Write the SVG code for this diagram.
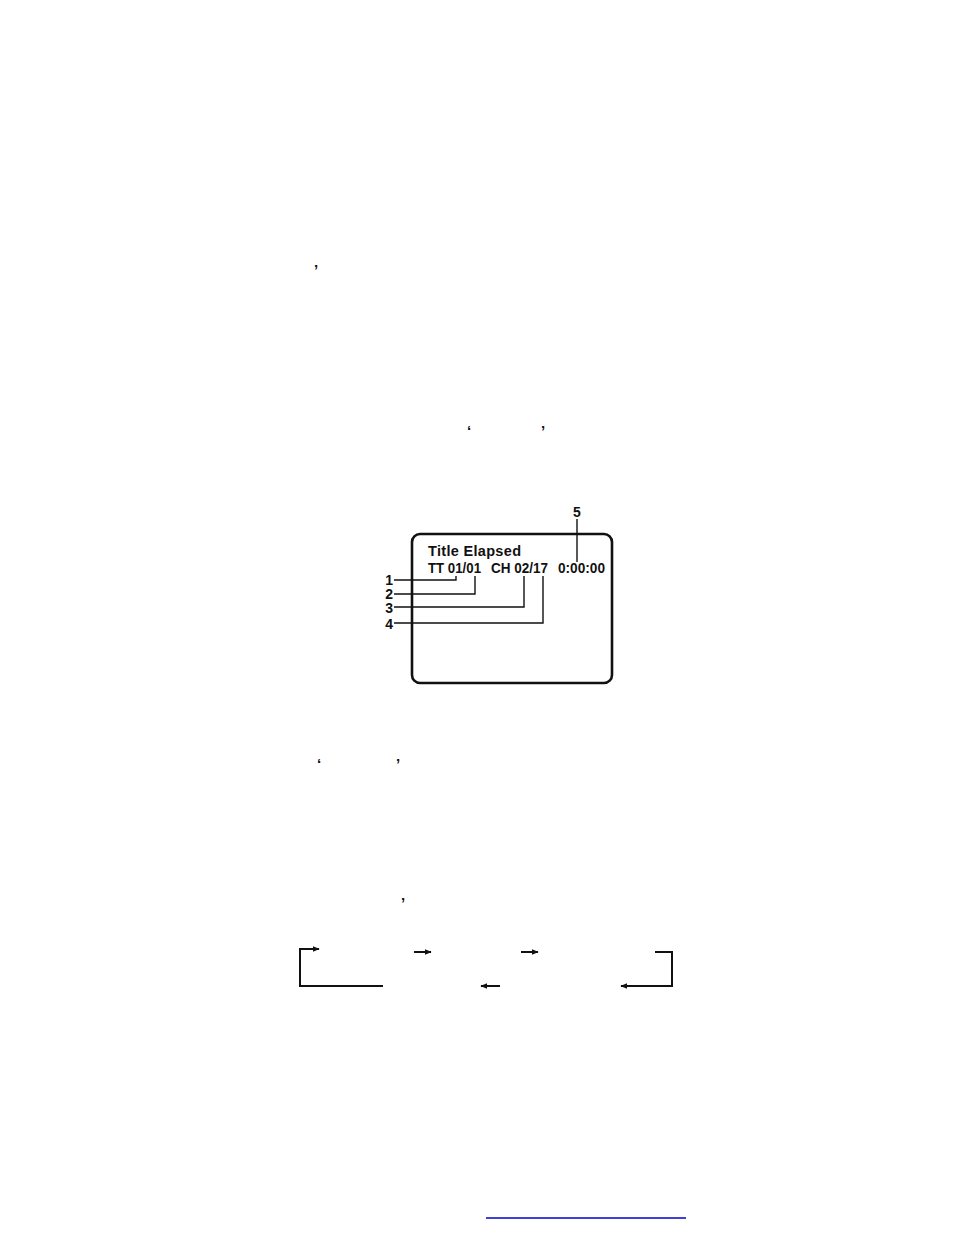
<svg xmlns="http://www.w3.org/2000/svg" width="954" height="1235" viewBox="0 0 954 1235">
<style>
.t{font-family:"Liberation Sans",Arial,sans-serif;font-weight:bold;fill:#111}
.q{font-family:"Liberation Sans",Arial,sans-serif;font-size:15px;font-weight:bold;fill:#111}
.ln{fill:none;stroke:#111;stroke-width:1.4}
.ar{fill:none;stroke:#111;stroke-width:2}
</style>
<defs>
<marker id="ah" viewBox="0 0 10 10" refX="9" refY="5" markerWidth="3.5" markerHeight="3.5" orient="auto" markerUnits="strokeWidth">
<path d="M0,1 L10,5 L0,9 z" fill="#111"/>
</marker>
</defs>
<rect width="954" height="1235" fill="#fff"/>
<g id="quotes">
<text class="q" x="314" y="275">’</text>
<text class="q" x="467" y="436">‘</text>
<text class="q" x="541" y="436">’</text>
<text class="q" x="317" y="769">‘</text>
<text class="q" x="396" y="769">’</text>
<text class="q" x="401" y="908">’</text>
</g>
<g id="screen">
<rect x="412" y="534" width="200" height="149" rx="8" ry="8" fill="none" stroke="#111" stroke-width="2.6"/>
<text class="t" x="428" y="556" font-size="14.5" textLength="93" lengthAdjust="spacing">Title Elapsed</text>
<text class="t" x="428" y="573" font-size="14.5" textLength="53" lengthAdjust="spacingAndGlyphs">TT 01/01</text>
<text class="t" x="491" y="573" font-size="14.5" textLength="57" lengthAdjust="spacingAndGlyphs">CH 02/17</text>
<text class="t" x="558" y="573" font-size="14.5" textLength="47" lengthAdjust="spacingAndGlyphs">0:00:00</text>
</g>
<g id="labels">
<text class="t" x="393" y="585" font-size="14" text-anchor="end">1</text>
<text class="t" x="393" y="599" font-size="14" text-anchor="end">2</text>
<text class="t" x="393" y="613" font-size="14" text-anchor="end">3</text>
<text class="t" x="393" y="629" font-size="14" text-anchor="end">4</text>
<text class="t" x="577" y="517" font-size="14" text-anchor="middle">5</text>
</g>
<g id="connectors">
<polyline class="ln" points="394,580 456,580 456,576"/>
<polyline class="ln" points="394,594 475,594 475,576"/>
<polyline class="ln" points="394,607 524,607 524,576"/>
<polyline class="ln" points="394,623 543,623 543,576"/>
<line class="ln" x1="577" y1="519" x2="577" y2="562"/>
</g>
<g id="cycle">
<polyline class="ar" points="383,986 300,986 300,949 319,949" marker-end="url(#ah)"/>
<line class="ar" x1="414" y1="952" x2="431" y2="952" marker-end="url(#ah)"/>
<line class="ar" x1="521" y1="952" x2="538" y2="952" marker-end="url(#ah)"/>
<polyline class="ar" points="655,952 672,952 672,986 621,986" marker-end="url(#ah)"/>
<line class="ar" x1="500" y1="986" x2="481" y2="986" marker-end="url(#ah)"/>
</g>
<line x1="486" y1="1218" x2="686" y2="1218" stroke="#0000cc" stroke-width="1.3"/>
</svg>
